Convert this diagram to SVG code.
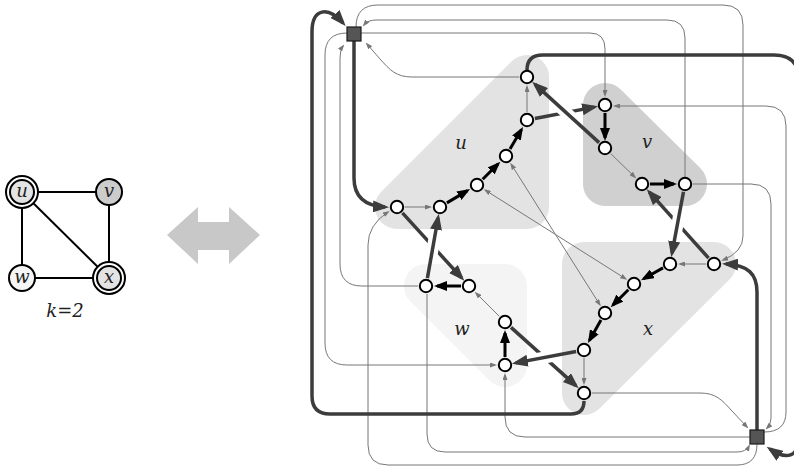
<svg xmlns="http://www.w3.org/2000/svg" width="794" height="470" viewBox="0 0 794 470">
<defs>
<style>
.lbl{font-family:"DejaVu Serif","Liberation Serif",serif;font-style:italic;font-size:18px;fill:#222;text-anchor:middle}
.n{fill:#fff;stroke:#000;stroke-width:2}
.sq{fill:#555;stroke:#1a1a1a;stroke-width:1.2}
.thin{fill:none;stroke:#777;stroke-width:1;marker-end:url(#at)}
.both{marker-start:url(#as)}
.blk{fill:none;stroke:#000;stroke-width:3;marker-end:url(#ab)}
.dk{fill:none;stroke:#3c3c3c;stroke-width:3.5;marker-end:url(#ad)}
.case{stroke:#fff;stroke-width:12;fill:none}
.reg{stroke-width:44;stroke-linejoin:round}
.ge{stroke:#000;stroke-width:2}
.gn{stroke:#000;stroke-width:2}
</style>
<marker id="at" markerUnits="userSpaceOnUse" markerWidth="7" markerHeight="5" refX="5" refY="2.5" orient="auto"><path d="M0,0 L7,2.5 L0,5 z" fill="#777"/></marker>
<marker id="as" markerUnits="userSpaceOnUse" markerWidth="7" markerHeight="5" refX="5" refY="2.5" orient="auto-start-reverse"><path d="M0,0 L7,2.5 L0,5 z" fill="#777"/></marker>
<marker id="ab" markerUnits="userSpaceOnUse" markerWidth="13" markerHeight="10" refX="10" refY="5" orient="auto"><path d="M0,0 L13,5 L0,10 z" fill="#000"/></marker>
<marker id="ad" markerUnits="userSpaceOnUse" markerWidth="16" markerHeight="12" refX="12" refY="6" orient="auto"><path d="M0,0 L16,6 L0,12 z" fill="#3c3c3c"/></marker>
</defs>

<g id="input-graph">
  <g id="graph-edges">
    <line class="ge" x1="22" y1="192" x2="109" y2="192"/>
    <line class="ge" x1="22" y1="192" x2="22" y2="278"/>
    <line class="ge" x1="22" y1="192" x2="109" y2="278"/>
    <line class="ge" x1="109" y1="192" x2="109" y2="278"/>
    <line class="ge" x1="22" y1="278" x2="109" y2="278"/>
  </g>
  <g id="g-u"><circle class="gn" cx="22" cy="192" r="16" fill="#fff"/><circle class="gn" cx="22" cy="192" r="12" fill="#e3e3e3"/><text class="lbl" x="22" y="197">u</text></g>
  <g id="g-v"><circle class="gn" cx="109" cy="192" r="13" fill="#cccccc"/><text class="lbl" x="109" y="197">v</text></g>
  <g id="g-w"><circle class="gn" cx="22" cy="278" r="13" fill="#f5f5f5"/><text class="lbl" x="22" y="283">w</text></g>
  <g id="g-x"><circle class="gn" cx="109" cy="278" r="16" fill="#fff"/><circle class="gn" cx="109" cy="278" r="12" fill="#e3e3e3"/><text class="lbl" x="109" y="283">x</text></g>
  <text class="lbl" x="65" y="317">k=2</text>
</g>

<g id="double-arrow">
  <polygon points="167,235 198,207 198,222 229,222 229,207 260,235 229,264 229,250 198,250 198,264" fill="#c8c8c8"/>
</g>

<g id="regions">
  <g id="region-u"><polygon class="reg" points="397,207 527,77 527,207" fill="#e3e3e3" stroke="#e3e3e3"/><text class="lbl" x="461" y="149">u</text></g>
  <g id="region-v"><polygon class="reg" points="605,105 685,184 605,184" fill="#d0d0d0" stroke="#d0d0d0"/><text class="lbl" x="647" y="148">v</text></g>
  <g id="region-x"><polygon class="reg" points="584,264 714,264 584,393" fill="#e3e3e3" stroke="#e3e3e3"/><text class="lbl" x="648" y="335">x</text></g>
  <g id="region-w"><polygon class="reg" points="426,286 505,286 505,365" fill="#f4f4f4" stroke="#f4f4f4"/><text class="lbl" x="462" y="335">w</text></g>
</g>

<g id="connectors">
  <!-- thin routed edges -->
  <path class="thin" d="M356,27 Q356,5 378,5 H723 Q743,5 743,25 V236 Q743,252 723,260"/>
  <path class="thin" d="M685,177 V38 Q685,20 667,20 H376 Q368,20 364,25"/>
  <path class="thin" d="M361,33 H590 Q605,33 605,49 V95"/>
  <path class="thin" d="M519,77 H412 C396,77 390,70 380,59 L367,44"/>
  <path class="thin" d="M347,33 Q325,33 325,55 V343 Q325,365 347,365 H495"/>
  <path class="thin" d="M418,286 H362 Q340,286 340,264 V58 Q340,50 343,46"/>
  <path class="thin" d="M757,444 Q757,465 737,465 H388 Q368,465 368,445 V245 Q368,225 388,212"/>
  <path class="thin" d="M427,294 V434 Q427,452 445,452 H737 Q746,452 749,446"/>
  <path class="thin" d="M750,437 H525 Q505,437 505,417 V375"/>
  <path class="thin" d="M592,393 H700 C716,393 722,400 732,411 L747,427"/>
  <path class="thin" d="M693,184 H751 Q771,184 771,204 V418 Q771,424 767,428"/>
  <path class="thin" d="M764,432 Q786,432 786,412 V126 Q786,106 766,106 H615"/>
  <!-- thin cross edges -->
  <path class="thin both" d="M511.3,164.5 L599.7,304.5"/>
  <path class="thin both" d="M485.5,190.3 L625.5,278.7"/>
  <!-- thin inner edges -->
  <path class="thin" d="M405,207 L430,207"/>
  <path class="thin" d="M527,112 L527,87"/>
  <path class="thin" d="M610.7,153.6 L634.8,177"/>
  <path class="thin" d="M706,264 L680,264"/>
  <path class="thin" d="M584,358 L584,383"/>
  <path class="thin" d="M499.3,316.3 L476.1,293.1"/>
  <!-- black inner edges -->
  <path class="blk" d="M446.9,202.9 L467.5,190.6"/>
  <path class="blk" d="M482.7,179.3 L498.2,163.8"/>
  <path class="blk" d="M510,149.1 L521.5,129.5"/>
  <path class="blk" d="M605,113 L605,138"/>
  <path class="blk" d="M650,184 L674,184"/>
  <path class="blk" d="M663,267.9 L643.6,278.7"/>
  <path class="blk" d="M628.3,289.7 L612.8,305.2"/>
  <path class="blk" d="M601,320 L589.4,340.4"/>
  <path class="blk" d="M461,286 L437,286"/>
  <path class="blk" d="M505,357 L505,333"/>
  <!-- thick dark edges -->
  <path class="dk" d="M354,41 V178 C354,198 366,206 385,207"/>
  <path class="dk" d="M757,430 V292 C757,274 748,265 726,264"/>
  <path class="dk" d="M584,401 Q584,414 571,414 H330 Q312,414 312,396 V32 C312,8 328,6 343,23"/>
  <path class="dk" d="M527,70 Q527,55 543,55 H774 Q799,55 799,80 V436 C799,458 786,460 770,449"/>
  <path class="dk" d="M534.9,118.5 L594.2,107.1"/>
  <path class="dk" d="M708.6,258.1 L649.4,192.2"/>
  <path class="dk" d="M402.4,212.9 L461.6,277.9"/>
  <path class="dk" d="M511,327.4 L575.8,385.6"/>
  <line class="case" x1="573.4" y1="119.2" x2="558.6" y2="105.8"/>
  <line class="case" x1="431.3" y1="256.4" x2="434.8" y2="236.7"/>
  <line class="case" x1="679.4" y1="213.7" x2="675.8" y2="233.3"/>
  <line class="case" x1="554.3" y1="355.6" x2="534.7" y2="359.4"/>
  <path class="dk" d="M599.1,142.6 L535.1,84.4"/>
  <path class="dk" d="M683.5,191.9 L672,253.2"/>
  <path class="dk" d="M427.4,278.1 L438.1,217.8"/>
  <path class="dk" d="M576.1,351.5 L515.8,362.9"/>
</g>

<g id="nodes">
  <g id="s-top"><rect class="sq" x="347" y="27" width="14" height="14"/></g>
  <g id="s-bottom"><rect class="sq" x="750" y="430" width="14" height="14"/></g>
  <g id="u1"><circle class="n" cx="527" cy="77" r="6.2"/></g>
  <g id="u2"><circle class="n" cx="527" cy="120" r="6.2"/></g>
  <g id="u3"><circle class="n" cx="506" cy="156" r="6.2"/></g>
  <g id="u4"><circle class="n" cx="477" cy="185" r="6.2"/></g>
  <g id="u5"><circle class="n" cx="440" cy="207" r="6.2"/></g>
  <g id="u6"><circle class="n" cx="397" cy="207" r="6.2"/></g>
  <g id="v1"><circle class="n" cx="605" cy="105" r="6.2"/></g>
  <g id="v2"><circle class="n" cx="605" cy="148" r="6.2"/></g>
  <g id="v3"><circle class="n" cx="642" cy="184" r="6.2"/></g>
  <g id="v4"><circle class="n" cx="685" cy="184" r="6.2"/></g>
  <g id="x1"><circle class="n" cx="714" cy="264" r="6.2"/></g>
  <g id="x2"><circle class="n" cx="670" cy="264" r="6.2"/></g>
  <g id="x3"><circle class="n" cx="634" cy="284" r="6.2"/></g>
  <g id="x4"><circle class="n" cx="605" cy="313" r="6.2"/></g>
  <g id="x5"><circle class="n" cx="584" cy="350" r="6.2"/></g>
  <g id="x6"><circle class="n" cx="584" cy="393" r="6.2"/></g>
  <g id="w1"><circle class="n" cx="426" cy="286" r="6.2"/></g>
  <g id="w2"><circle class="n" cx="469" cy="286" r="6.2"/></g>
  <g id="w3"><circle class="n" cx="505" cy="322" r="6.2"/></g>
  <g id="w4"><circle class="n" cx="505" cy="365" r="6.2"/></g>
</g>
</svg>
